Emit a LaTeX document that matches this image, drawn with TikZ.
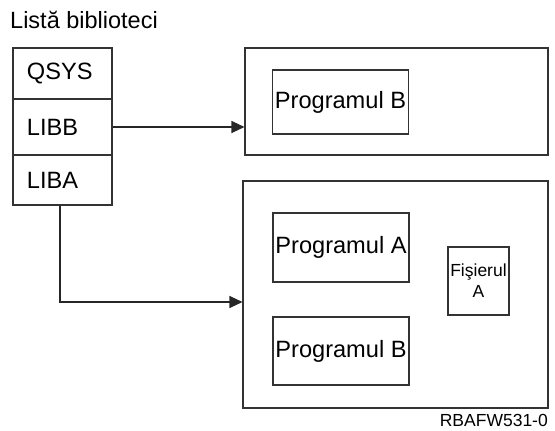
\documentclass[tikz,border=0pt]{standalone}
\usepackage{fontspec}
\setmainfont{Liberation Sans}
\usetikzlibrary{arrows.meta}
\begin{document}
\begin{tikzpicture}[x=1pt,y=-1pt,
  box/.style={draw=black!80, line width=1.1pt, inner sep=0pt},
  librow/.style={box, minimum width=99pt, text width=71pt, align=left,
                 font=\fontsize{23.6}{26}\selectfont},
  progbox/.style={box, minimum width=136pt, minimum height=67pt,
                  font=\fontsize{23.6}{26}\selectfont},
  link/.style={draw=black!85, line width=1.1pt, -{Triangle[length=13pt,width=12pt]}}]
  \useasboundingbox (0,0) rectangle (555,431);

  % title
  \node[anchor=base west, inner sep=0pt, font=\fontsize{23.5}{26}\selectfont]
    (title) at (10,28) {Listă biblioteci};

  % library list
  \node[librow, minimum height=51pt] (qsys) at (62.5,73.5) {QSYS};
  \node[librow, minimum height=56pt] (libb) at (62.5,127) {LIBB};
  \node[librow, minimum height=50pt] (liba) at (62.5,180) {LIBA};

  % library LIBB
  \node[box, minimum width=303pt, minimum height=107pt] (topbox) at (396.5,101.5) {};
  \node[progbox, minimum height=64pt] (progb1) at (340.5,102) {Programul B};

  % library LIBA
  \node[box, minimum width=305pt, minimum height=227pt] (botbox) at (395.5,294.5) {};
  \node[progbox, minimum height=69pt] (proga) at (341,247.5) {Programul A};
  \node[progbox, minimum height=68pt] (progb2) at (341,351) {Programul B};
  \node[box, minimum width=61pt, minimum height=68pt, align=center,
        font=\fontsize{17.5}{21}\selectfont] (fisier) at (478.5,281) {Fişierul\\A};

  % connectors
  \coordinate (bend) at (60,302);
  \draw[link] (libb.east) -- (libb.east -| topbox.west);
  \draw[link] (bend |- liba.south) -- (bend) -- (bend -| botbox.west);

  % figure id
  \node[anchor=base east, inner sep=0pt, font=\fontsize{17.5}{20}\selectfont]
    (figid) at (548,426) {RBAFW531-0};
\end{tikzpicture}
\end{document}
